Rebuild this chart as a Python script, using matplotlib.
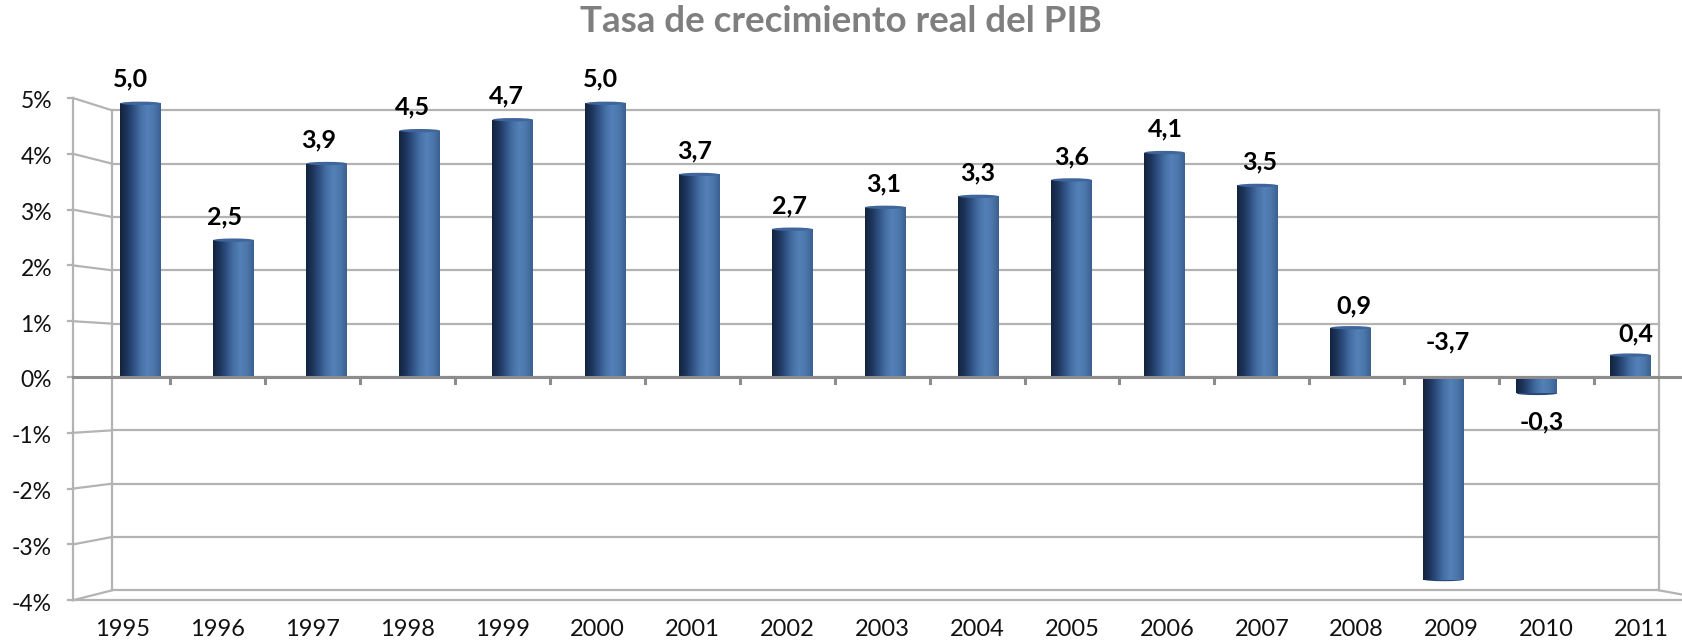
import numpy as np
import matplotlib
matplotlib.use("Agg")
import matplotlib.pyplot as plt
from matplotlib.colors import LinearSegmentedColormap
from matplotlib.patches import Ellipse

plt.rcParams["font.family"] = ["Lato", "DejaVu Sans"]

# data
years = ["1995", "1996", "1997", "1998", "1999", "2000", "2001", "2002", "2003",
         "2004", "2005", "2006", "2007", "2008", "2009", "2010", "2011"]
growth = [5.0, 2.5, 3.9, 4.5, 4.7, 5.0, 3.7, 2.7, 3.1, 3.3, 3.6, 4.1, 3.5, 0.9, -3.7, -0.3, 0.4]
y_ticks = [5, 4, 3, 2, 1, 0, -1, -2, -3, -4]
title = "Tasa de crecimiento real del PIB"

# pseudo-3D planes: x' = a + s*x, y' = s*y (front plane is s=1, a=0)
S_BAR, A_BAR = 0.981, 0.184
S_LBL, A_LBL = 0.992, 0.074
S_BACK, A_BACK = 0.956, 0.387
X_LEFT, X_RIGHT = -0.527, 16.527

GRID = "#b3b3b3"
AXIS = "#8c8c8c"
bar_cmap = LinearSegmentedColormap.from_list(
    "cyl", ["#13233f", "#1d355c", "#2f5183", "#4670a5", "#5280b8", "#4c77ac", "#3a5f90"])

fig = plt.figure(figsize=(16.83, 6.42), dpi=100)
ax = fig.add_axes([0, 0, 1, 1])
ax.set_xlim(-123 / 94.9, (1683 - 123) / 94.9)
ax.set_ylim((377 - 642) / 55.8, 377 / 55.8)
ax.axis("off")


def back(x, y):
    return A_BACK + S_BACK * x, S_BACK * y


# back wall gridlines + left wall lines
bx0, _ = back(X_LEFT, 0)
bx1, _ = back(X_RIGHT, 0)
for k in y_ticks:
    _, by = back(0, k)
    ax.plot([bx0, bx1], [by, by], color=GRID, lw=1.6, zorder=1)
    if k != 0:
        ax.plot([X_LEFT, bx0], [k, by], color=GRID, lw=1.6, zorder=1)
    ax.plot([X_LEFT - 0.055, X_LEFT], [k, k], color=GRID, lw=1.6, zorder=1)
    ax.text(X_LEFT - 0.22, k - 0.07, f"{k}%", ha="right", va="center", fontsize=16.5, color="#111111")

_, btop = back(0, 5)
_, bbot = back(0, -4)
ax.plot([bx0, bx0], [btop, bbot], color=GRID, lw=1.6, zorder=1)
ax.plot([bx1, bx1], [btop, bbot], color=GRID, lw=1.6, zorder=1)
ax.plot([X_LEFT, X_LEFT], [5, -4], color=GRID, lw=1.6, zorder=1)
# floor front edge and right connector
ax.plot([X_LEFT, 18], [-4, -4], color=GRID, lw=1.6, zorder=1)
ax.plot([bx1, X_RIGHT + 0.3], [bbot, -4.02], color=GRID, lw=1.6, zorder=1)

# bars
xs = [A_BAR + S_BAR * i for i in range(len(years))]
width = 0.44 * S_BAR
bars = ax.bar(xs, [S_BAR * v for v in growth], width=width, color="#3d6597",
              edgecolor="none", zorder=3)
grad = np.linspace(0, 1, 256).reshape(1, -1)
for rect, v in zip(bars, growth):
    x0 = rect.get_x()
    y0, y1 = sorted([0, rect.get_height()])
    im = ax.imshow(grad, cmap=bar_cmap, aspect="auto", extent=[x0, x0 + width, y0, y1],
                   zorder=3, interpolation="bicubic")
    im.set_clip_path(rect)
    if v > 0:
        ax.add_patch(Ellipse((x0 + width / 2, y1), width * 0.99, 0.06,
                             facecolor="#3f659a", edgecolor="none", zorder=4))
    else:
        ax.add_patch(Ellipse((x0 + width / 2, y0), width * 0.99, 0.06,
                             facecolor="#2a4a78", edgecolor="none", zorder=2.9))

# zero line with category ticks
ax.plot([X_LEFT, 18], [0, 0], color=AXIS, lw=2.2, zorder=5)
for i in range(len(years) - 1):
    ax.plot([i + 0.5, i + 0.5], [0, -0.11], color=AXIS, lw=2.2, zorder=5)

# category labels
for i, yr in enumerate(years):
    ax.text(i, -4.52, yr, ha="center", va="center", fontsize=17, color="#111111")

# data labels
for i, v in enumerate(growth):
    lx = A_LBL + S_LBL * i
    if v >= 0:
        ly = S_LBL * v + 0.38
    elif S_LBL * v - 0.5 < -3.5:
        ly = 0.63
    else:
        ly = S_LBL * v - 0.5
    ax.text(lx, ly, f"{v:.1f}".replace(".", ","), ha="center", va="center",
            fontsize=18, fontweight="bold", color="#000000", zorder=6)

fig.text(841 / 1683, 1 - 21 / 642, title, ha="center", va="center",
         fontsize=26.5, fontweight="bold", color="#7f7f7f")

fig.savefig("out.png", dpi=100)
